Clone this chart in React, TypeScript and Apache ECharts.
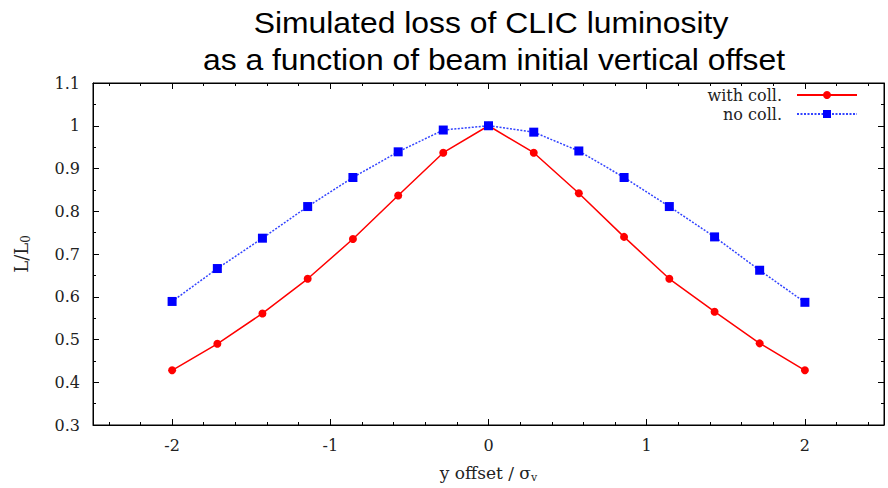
import React, { useEffect, useRef } from "react";
import * as echarts from "echarts";

const offsets = [-2, -1.714, -1.429, -1.143, -0.857, -0.571, -0.286, 0, 0.286, 0.571, 0.857, 1.143, 1.429, 1.714, 2];
const withColl = [0.428, 0.49, 0.561, 0.642, 0.735, 0.837, 0.937, 1.0, 0.937, 0.842, 0.74, 0.642, 0.565, 0.491, 0.428];
const noColl = [0.589, 0.666, 0.737, 0.811, 0.879, 0.939, 0.99, 1.0, 0.985, 0.941, 0.879, 0.811, 0.74, 0.662, 0.587];
const titleLines = ["Simulated loss of CLIC luminosity", "as a function of beam initial vertical offset"];
const seriesNames = ["with coll.", "no coll."];

const serif = "DejaVu Serif";

export default function App() {
  const ref = useRef<HTMLDivElement>(null);
  useEffect(() => {
    if (!ref.current) return;
    const chart = echarts.init(ref.current, undefined, { renderer: "svg" });
    const tickStyle = { show: true, inside: true, length: 6, lineStyle: { color: "#000", width: 1 } };
    const minorStyle = { show: true, splitNumber: 5, length: 3, lineStyle: { color: "#000", width: 1 } };
    const minorStyleY = { show: true, splitNumber: 2, length: 3, lineStyle: { color: "#000", width: 1 } };
    const xBase = {
      type: "value" as const,
      min: -2.5,
      max: 2.5,
      splitNumber: 5,
      axisLine: { show: true, onZero: false, lineStyle: { color: "#000", width: 1 } },
      axisTick: tickStyle,
      minorTick: minorStyle,
      splitLine: { show: false },
    };
    const yBase = {
      type: "value" as const,
      min: 0.3,
      max: 1.1,
      interval: 0.1,
      axisLine: { show: true, onZero: false, lineStyle: { color: "#000", width: 1 } },
      axisTick: tickStyle,
      minorTick: minorStyleY,
      splitLine: { show: false },
    };
    const legendBase = {
      right: 30,
      padding: 0,
      align: "right" as const,
      itemWidth: 60,
      itemHeight: 10,
      textStyle: { fontFamily: serif, fontSize: 16, color: "#222", padding: [0, 10, 0, 0] },
    };
    chart.setOption({
      animation: false,
      backgroundColor: "#fff",
      graphic: [
        {
          type: "text",
          x: 491,
          y: 23,
          scaleX: 1.063,
          style: {
            text: titleLines[0],
            fontFamily: "Liberation Sans",
            fontSize: 30,
            fill: "#000",
            textAlign: "center",
            textVerticalAlign: "middle",
          },
        },
        {
          type: "text",
          x: 494,
          y: 60,
          scaleX: 1.063,
          style: {
            text: titleLines[1],
            fontFamily: "Liberation Sans",
            fontSize: 30,
            fill: "#000",
            textAlign: "center",
            textVerticalAlign: "middle",
          },
        },
      ],
      grid: {
        left: 93,
        right: 4,
        top: 83,
        bottom: 60,
        show: true,
        borderColor: "#000",
        borderWidth: 1,
        backgroundColor: "transparent",
      },
      legend: [
        { ...legendBase, data: [seriesNames[0]], top: 87 },
        { ...legendBase, data: [seriesNames[1]], top: 106 },
      ],
      xAxis: [
        {
          ...xBase,
          position: "bottom",
          name: "{a|y offset / σ}{s|v}",
          nameLocation: "middle",
          nameGap: 37,
          nameTextStyle: {
            rich: {
              a: { fontFamily: serif, fontSize: 17, color: "#222" },
              s: { fontFamily: serif, fontSize: 11, color: "#222", verticalAlign: "bottom", padding: [10, 0, 0, 0] },
            },
          },
          axisLabel: {
            show: true,
            margin: 12,
            fontFamily: serif,
            fontSize: 16,
            color: "#222",
            showMinLabel: false,
            showMaxLabel: false,
          },
        },
        {
          ...xBase,
          position: "top",
          axisLabel: { show: false },
        },
      ],
      yAxis: [
        {
          ...yBase,
          position: "left",
          name: "{a|L/L}{s|0}",
          nameLocation: "middle",
          nameGap: 61,
          nameRotate: 90,
          nameTextStyle: {
            rich: {
              a: { fontFamily: serif, fontSize: 18, color: "#222" },
              s: { fontFamily: serif, fontSize: 12, color: "#222", verticalAlign: "bottom", padding: [10, 0, 0, 0] },
            },
          },
          axisLabel: {
            show: true,
            margin: 13,
            fontFamily: serif,
            fontSize: 16,
            color: "#222",
          },
        },
        {
          ...yBase,
          position: "right",
          axisLabel: { show: false },
        },
      ],
      series: [
        {
          name: seriesNames[0],
          type: "line",
          xAxisIndex: 0,
          yAxisIndex: 0,
          data: offsets.map((x, i) => [x, withColl[i]]),
          symbol: "circle",
          symbolSize: 8,
          itemStyle: { color: "#ff0000" },
          lineStyle: { color: "#ff0000", width: 1.5 },
        },
        {
          name: seriesNames[1],
          type: "line",
          xAxisIndex: 0,
          yAxisIndex: 0,
          data: offsets.map((x, i) => [x, noColl[i]]),
          symbol: "rect",
          symbolSize: 9,
          itemStyle: { color: "#0000ff" },
          lineStyle: { color: "#3344ff", width: 1.5, type: [2, 1.5] },
        },
      ],
    });
    return () => chart.dispose();
  }, []);
  return <div ref={ref} style={{ width: 888, height: 488, position: "absolute", left: 0, top: 0 }} />;
}
